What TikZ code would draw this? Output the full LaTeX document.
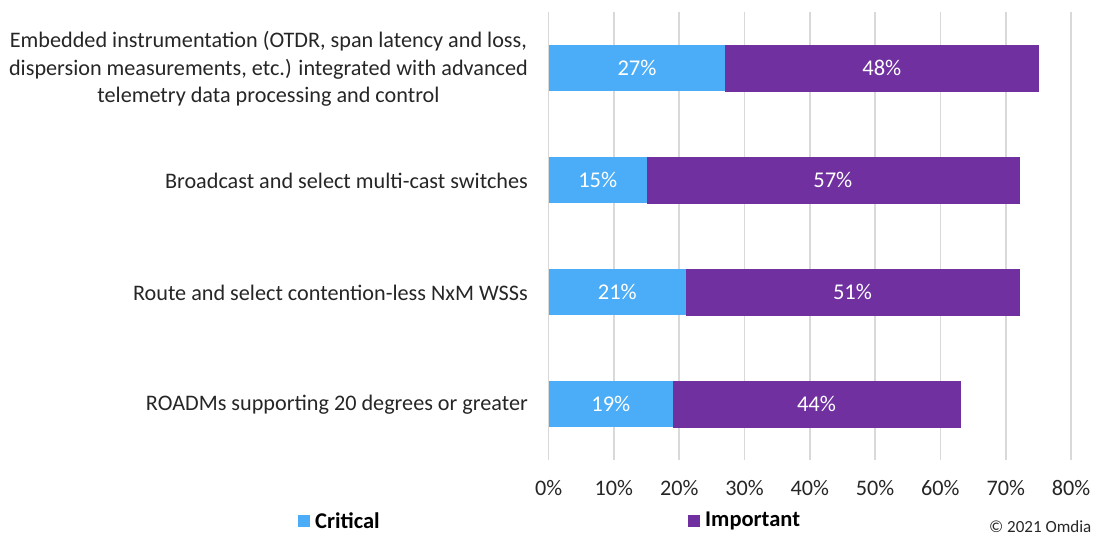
\documentclass[tikz,border=0pt]{standalone}
\usepackage{fontspec}
\setmainfont{Carlito}
\definecolor{crit}{HTML}{4BADF7}
\definecolor{imp}{HTML}{7030A0}
\definecolor{gridc}{HTML}{D9D9D9}
\definecolor{txt}{HTML}{262626}
\begin{document}
\begin{tikzpicture}[x=1pt,y=-1pt,
  lab/.style={font=\fontsize{22.2}{27.5}\selectfont, text=txt, inner sep=0pt},
  cat/.style={lab, anchor=east, align=center},
  seg/.style={minimum height=46pt, inner sep=0pt, anchor=west, text=white,
              font=\fontsize{22.5}{25}\selectfont},
  leg/.style={font=\bfseries\fontsize{22.5}{24}\selectfont, text=black, inner sep=0pt, anchor=west},
  sq/.style={minimum size=12pt, inner sep=0pt}]
\useasboundingbox (0,0) rectangle (1101,537);
\def\xz{548.6}
\def\u{6.53}
% grid
\foreach \i in {0,...,8}{
  \draw[gridc, line width=1.6pt] ({\xz+10*\u*\i},12) -- ({\xz+10*\u*\i},460);
  \node[lab] (t\i) at ({\xz+10*\u*\i},488) {\the\numexpr\i*10\relax\%};
}
% bars
\foreach \r/\c/\m [count=\k from 0] in {1/27/48, 2/15/57, 3/21/51, 4/19/44}{
  \node[seg, fill=crit, minimum width={\c*\u pt}] (c\r) at (\xz,{68+112*\k}) {\c\%};
  \node[seg, fill=imp, draw=imp, line width=0.4pt, minimum width={\m*\u pt-0.4pt}] (i\r) at ([xshift=-0.2pt]c\r.east) {\m\%};
}
% categories
\node[cat] (l1) at (528,69) {Embedded instrumentation (OTDR, span latency and loss,\\dispersion measurements, etc.) integrated with advanced\\telemetry data processing and control};
\node[cat] (l2) at (528,181) {Broadcast and select multi-cast switches};
\node[cat] (l3) at (528,293) {Route and select contention-less NxM WSSs};
\node[cat] (l4) at (528,405) {ROADMs supporting 20 degrees or greater};
% legend
\node[sq, fill=crit] (s1) at (304,521) {};
\node[leg] (k1) at (315,521) {Critical};
\node[sq, fill=imp] (s2) at (694,521) {};
\node[leg] (k2) at (705,521) {Important};
% copyright
\node[font=\fontsize{17}{20}\selectfont, text=txt, inner sep=0pt, anchor=base west] (cp) at (989,532) {© 2021 Omdia};
\end{tikzpicture}
\end{document}
